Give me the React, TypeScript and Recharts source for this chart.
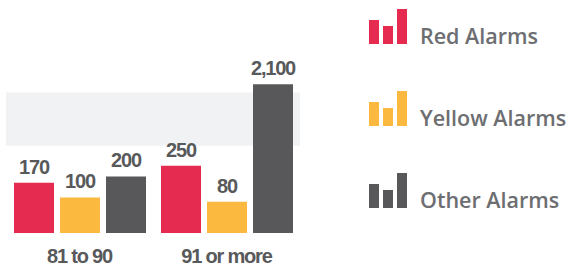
import { BarChart, Bar, XAxis, YAxis, ReferenceArea, LabelList, Legend } from 'recharts'

const groups = ['81 to 90', '91 or more']
const redAlarms = [170, 250]
const yellowAlarms = [100, 80]
const otherAlarms = [200, 2100]

const seriesNames = ['Red Alarms', 'Yellow Alarms', 'Other Alarms']
const seriesColors = ['#E52C50', '#FBB940', '#58585A']

// broken value axis: small values get a lift, everything above the break is squeezed
const breakFrom = 346
const breakTo = 1870
const yMax = 2225
const lift = 69
const squeeze = 0.166

const data = groups.map((group, i) => ({
  group,
  red: redAlarms[i],
  yellow: yellowAlarms[i],
  other: otherAlarms[i],
}))

function warp(v: number): number {
  if (v <= 0) return v
  if (v <= breakFrom) return v + lift
  return breakFrom + lift + (v - breakFrom) * squeeze
}

function brokenScale(): any {
  let dom = [0, 1]
  let rng = [0, 1]
  const scale: any = (v: any) => {
    const u0 = warp(dom[0])
    const u1 = warp(dom[1])
    return rng[0] + ((warp(Number(v)) - u0) / (u1 - u0)) * (rng[1] - rng[0])
  }
  scale.domain = (...args: any[]) => {
    if (!args.length) return dom.slice()
    dom = Array.from(args[0]).map(Number)
    return scale
  }
  scale.range = (...args: any[]) => {
    if (!args.length) return rng.slice()
    rng = Array.from(args[0]).map(Number)
    return scale
  }
  scale.copy = () => brokenScale().domain(dom).range(rng)
  scale.ticks = () => [dom[0], breakFrom, dom[1]]
  scale.tickFormat = () => (v: number) => String(v)
  scale.invert = (y: number) => dom[0] + ((y - rng[0]) / (rng[1] - rng[0])) * (dom[1] - dom[0])
  return scale
}

const labelFont = "'Liberation Sans', Arial, sans-serif"
const fmt = (v: any) => Number(v).toLocaleString('en-US')

function LegendIcon({ color }: { color: string }) {
  return (
    <svg width={38} height={35} style={{ display: 'block' }}>
      <rect x={0} y={11} width={10} height={24} fill={color} />
      <rect x={14} y={17} width={10} height={18} fill={color} />
      <rect x={28} y={0} width={10} height={35} fill={color} />
    </svg>
  )
}

function AlarmLegend({ payload }: any) {
  const items = [...(payload ?? [])].sort(
    (a: any, b: any) => seriesNames.indexOf(a.value) - seriesNames.indexOf(b.value)
  )
  return (
    <div style={{ paddingTop: 9 }}>
      {items.map((item: any) => (
        <div
          key={item.value}
          style={{ display: 'flex', alignItems: 'baseline', height: 35, marginBottom: 47 }}
        >
          <LegendIcon color={item.color} />
          <span
            style={{
              marginLeft: 13,
              fontFamily: "'Open Sans', sans-serif",
              fontSize: 21.5,
              fontWeight: 600,
              color: '#6D6E71',
              lineHeight: 1,
            }}
          >
            {item.value}
          </span>
        </div>
      ))}
    </div>
  )
}

export default function App() {
  const keys = ['red', 'yellow', 'other']
  return (
    <div style={{ position: 'absolute', left: 0, top: 0, width: 577, height: 267, background: '#fff' }}>
      <BarChart
        width={577}
        height={267}
        data={data}
        margin={{ top: 80, right: 277, bottom: 4, left: 6 }}
        barGap={6}
      >
        <XAxis
          dataKey="group"
          axisLine={false}
          tickLine={false}
          tickMargin={10}
          height={30}
          tick={{ fontFamily: labelFont, fontSize: 20, fontWeight: 700, fill: '#58595B', letterSpacing: -1.2 }}
        />
        <YAxis hide type="number" domain={[0, yMax]} scale={brokenScale()} allowDataOverflow />
        <ReferenceArea y1={breakFrom} y2={breakTo} fill="#F1F2F4" fillOpacity={1} stroke="none" />
        {keys.map((k, i) => (
          <Bar
            key={k}
            dataKey={k}
            name={seriesNames[i]}
            fill={seriesColors[i]}
            barSize={40}
            isAnimationActive={false}
          >
            <LabelList
              dataKey={k}
              position="top"
              offset={9}
              formatter={fmt}
              fill="#58595B"
              fontFamily={labelFont}
              fontSize={20}
              fontWeight={700}
              letterSpacing={-1.2}
            />
          </Bar>
        ))}
        <Legend
          layout="vertical"
          align="center"
          verticalAlign="middle"
          content={<AlarmLegend />}
          wrapperStyle={{ left: 369, top: 0, width: 208 }}
        />
      </BarChart>
    </div>
  )
}
